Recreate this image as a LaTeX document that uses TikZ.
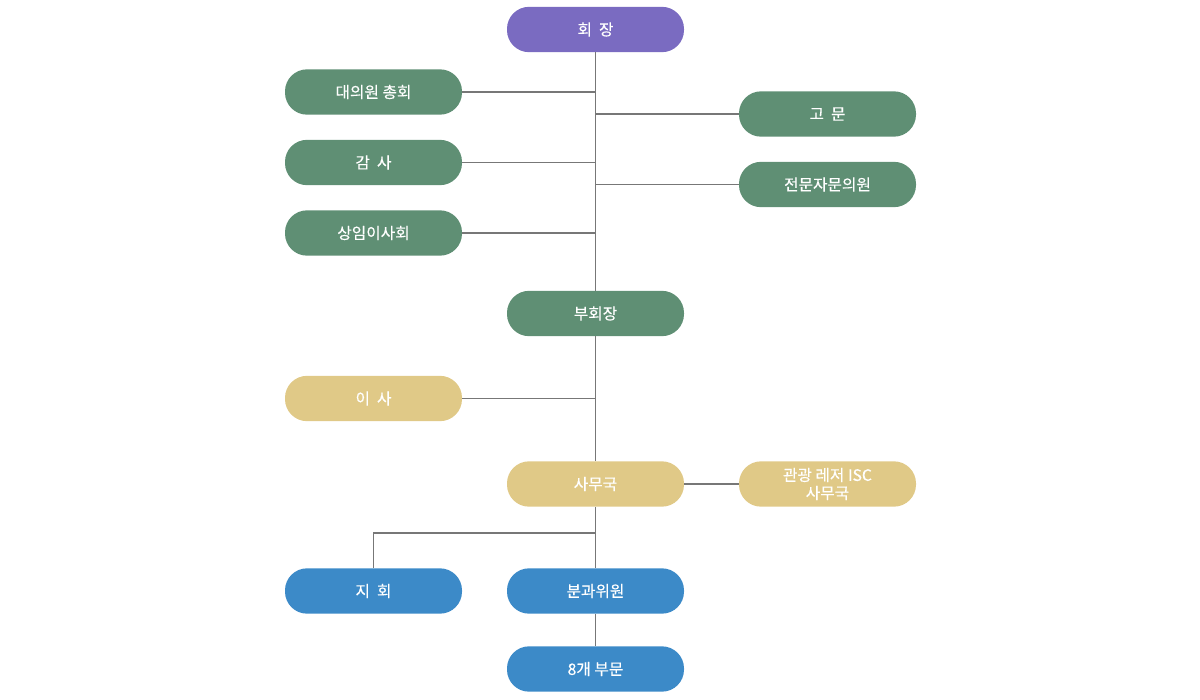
\documentclass[tikz,border=0pt]{standalone}
\usepackage{fontspec}
\setmainfont{Noto Sans CJK KR}
\newfontfamily\boxfont{Noto Sans CJK KR}[FakeBold=0.4]
\definecolor{cpurple}{HTML}{7A6BC1}
\definecolor{cgreen}{HTML}{5F8F74}
\definecolor{cyellow}{HTML}{E0C987}
\definecolor{cblue}{HTML}{3C8AC8}
\definecolor{cline}{HTML}{777777}
\begin{document}
\begin{tikzpicture}[x=0.75pt,y=-0.75pt,
  box/.style={rounded corners=16.5pt, minimum width=132.75pt, minimum height=34pt, inner sep=0pt,
    text=white, font=\boxfont\fontsize{11.8}{13.5}\selectfont, align=center},
  pbox/.style={box, fill=cpurple},
  gbox/.style={box, fill=cgreen},
  ybox/.style={box, fill=cyellow},
  bbox/.style={box, fill=cblue},
  conn/.style={draw=cline, line width=1pt}]
\useasboundingbox (0,0) rectangle (1200,700);
\node[pbox] (pres) at (595.5,29.5) {회\ \ 장};
\node[gbox] (assembly) at (373.5,92) {대의원 총회};
\node[gbox] (audit) at (373.5,162.5) {감\ \ 사};
\node[gbox] (board) at (373.5,233) {상임이사회};
\node[gbox] (advisor) at (827.5,114) {고\ \ 문};
\node[gbox] (expert) at (827.5,184.5) {전문자문의원};
\node[gbox] (vice) at (595.5,313.5) {부회장};
\node[ybox] (director) at (373.5,398.5) {이\ \ 사};
\node[ybox] (office) at (595.5,484) {사무국};
\node[ybox] (isc) at (827.5,484) {관광 레저 ISC\\사무국};
\node[bbox] (branch) at (373.5,591) {지\ \ 회};
\node[bbox] (committee) at (595.5,591) {분과위원};
\node[bbox] (sectors) at (595.5,669) {8개 부문};
\coordinate (j1) at (595.5,92);
\coordinate (j2) at (595.5,162.5);
\coordinate (j3) at (595.5,233);
\coordinate (j4) at (595.5,114);
\coordinate (j5) at (595.5,184.5);
\coordinate (j6) at (595.5,398.5);
\coordinate (j7) at (595.5,533);
\draw[conn] (pres.south) -- (vice.north);
\draw[conn] (vice.south) -- (office.north);
\draw[conn] (office.south) -- (committee.north);
\draw[conn] (committee.south) -- (sectors.north);
\draw[conn] (assembly.east) -- (j1);
\draw[conn] (audit.east) -- (j2);
\draw[conn] (board.east) -- (j3);
\draw[conn] (j4) -- (advisor.west);
\draw[conn] (j5) -- (expert.west);
\draw[conn] (director.east) -- (j6);
\draw[conn] (office.east) -- (isc.west);
\draw[conn] (j7) -| (branch.north);
\end{tikzpicture}
\end{document}
